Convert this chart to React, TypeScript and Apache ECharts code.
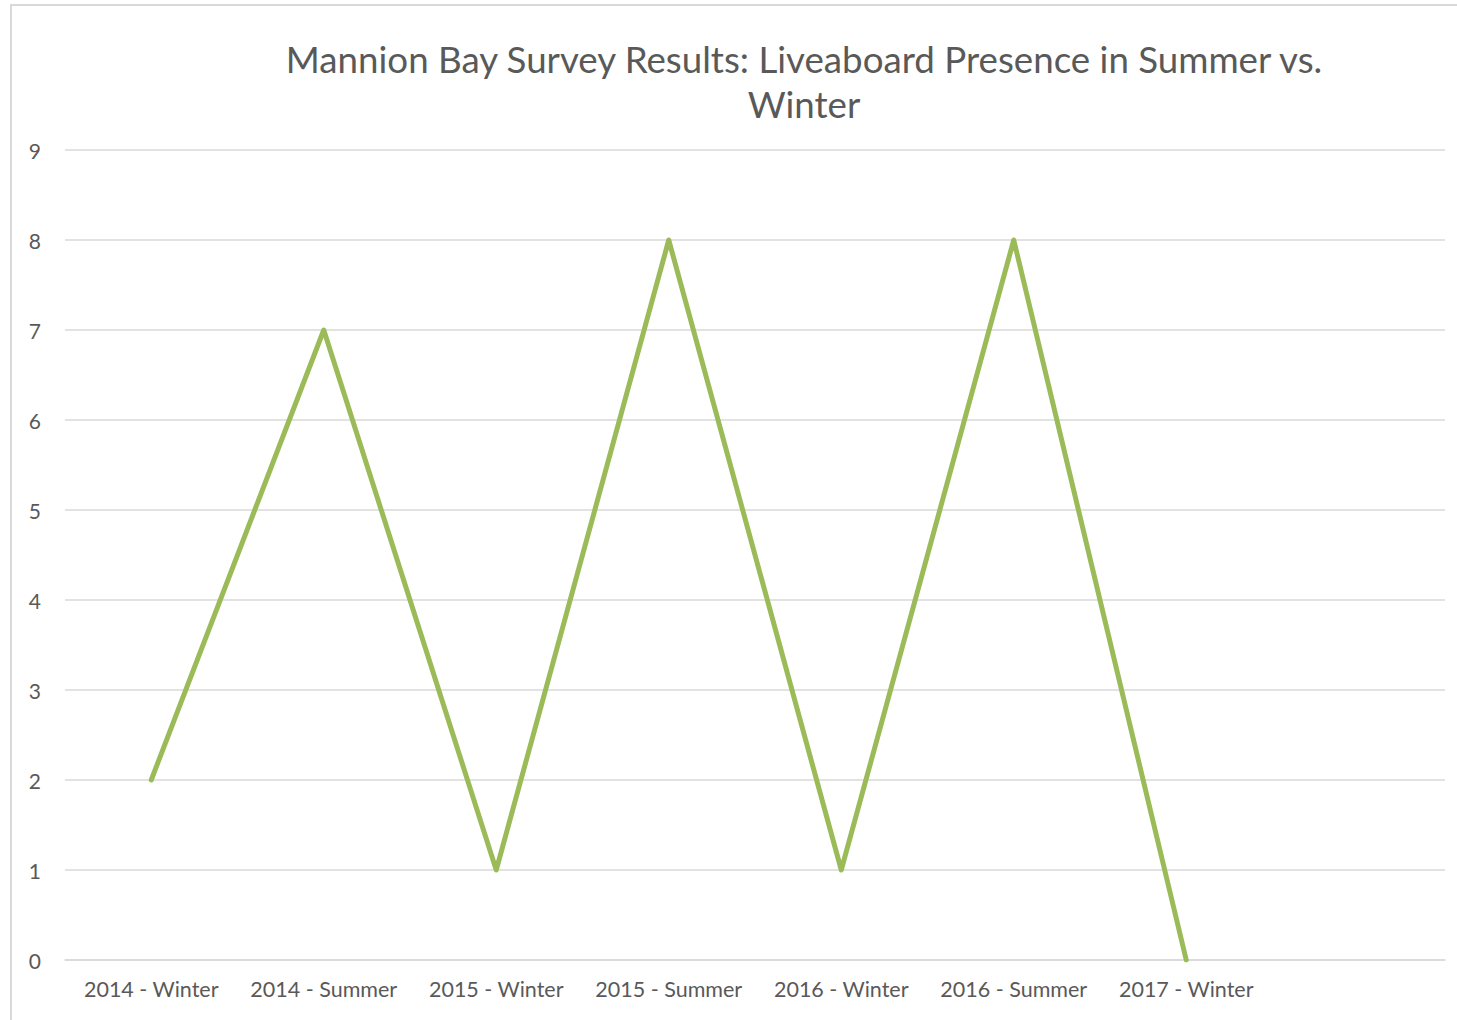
import React, { useEffect, useRef } from "react";
import * as echarts from "echarts";

const categories = [
  "2014 - Winter",
  "2014 - Summer",
  "2015 - Winter",
  "2015 - Summer",
  "2016 - Winter",
  "2016 - Summer",
  "2017 - Winter",
  "",
];
const liveaboards = [2, 7, 1, 8, 1, 8, 0, null];
const titleText =
  "Mannion Bay Survey Results: Liveaboard Presence in Summer vs.\nWinter";

export default function App() {
  const ref = useRef<HTMLDivElement>(null);
  useEffect(() => {
    if (!ref.current) return;
    const chart = echarts.init(ref.current, null, { renderer: "svg" });
    chart.setOption({
      animation: false,
      backgroundColor: "#ffffff",
      textStyle: { fontFamily: "Lato" },
      title: {
        text: titleText,
        left: 799,
        top: 31,
        textAlign: "center",
        textStyle: {
          fontFamily: "Lato",
          fontSize: 36.7,
          fontWeight: "normal",
          color: "#595959",
          lineHeight: 45,
        },
      },
      graphic: [
        {
          type: "rect",
          shape: { x: 11, y: 5, width: 1500, height: 1100 },
          style: { fill: "none", stroke: "#d9d9d9", lineWidth: 2 },
          silent: true,
        },
      ],
      grid: { left: 65, right: 12, top: 150, bottom: 60, containLabel: false },
      xAxis: {
        type: "category",
        data: categories,
        boundaryGap: true,
        axisLine: { show: true, lineStyle: { color: "#d9d9d9", width: 1.5 } },
        axisTick: { show: false },
        axisLabel: {
          color: "#595959",
          fontSize: 21.5,
          margin: 18,
          interval: 0,
          fontFamily: "Lato",
        },
      },
      yAxis: {
        type: "value",
        min: 0,
        max: 9,
        interval: 1,
        axisLine: { show: false },
        axisTick: { show: false },
        axisLabel: {
          color: "#595959",
          fontSize: 21,
          margin: 24,
          fontFamily: "Lato",
        },
        splitLine: { lineStyle: { color: "#d9d9d9", width: 1.5 } },
      },
      series: [
        {
          type: "line",
          data: liveaboards,
          showSymbol: false,
          symbol: "none",
          lineStyle: { color: "#9bbb59", width: 5, cap: "round", join: "round" },
          itemStyle: { color: "#9bbb59" },
        },
      ],
    });
    return () => chart.dispose();
  }, []);
  return (
    <div
      ref={ref}
      style={{ position: "fixed", left: 0, top: 0, width: 1457, height: 1020 }}
    />
  );
}
